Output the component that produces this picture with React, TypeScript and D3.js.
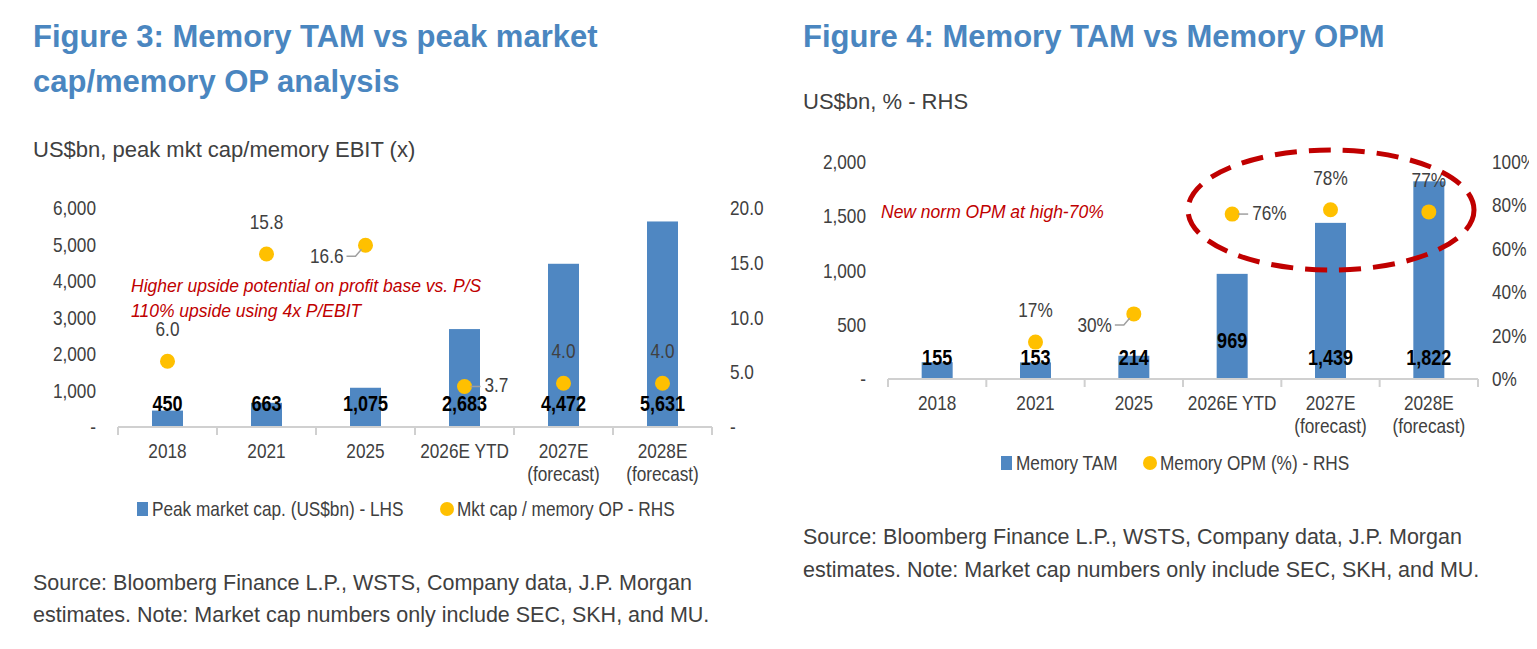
import * as d3 from 'd3';
import type { ReactNode } from 'react';

const categories = ['2018', '2021', '2025', '2026E YTD', '2027E|(forecast)', '2028E|(forecast)'];
const peakMktCap = [450, 663, 1075, 2683, 4472, 5631];
const mktCapOp = [6.0, 15.8, 16.6, 3.7, 4.0, 4.0];
const memoryTam = [155, 153, 214, 969, 1439, 1822];
const memoryOpm: (number | null)[] = [null, 17, 30, 76, 78, 77];
const leftTicks3 = [0, 1000, 2000, 3000, 4000, 5000, 6000];
const rightTicks3 = [0, 5, 10, 15, 20];
const leftTicks4 = [0, 500, 1000, 1500, 2000];
const rightTicks4 = [0, 20, 40, 60, 80, 100];

const BLUE = '#4F87C2';
const GOLD = '#FFC000';
const TITLE = '#4A86C0';
const TXT = '#404040';
const RED = '#C00000';
const SANS = '"Liberation Sans", Arial, sans-serif';

// condensed text, the chart uses a narrow face
function N(props: { x: number; y: number; anchor?: string; bold?: boolean; fill?: string; size?: number; children: ReactNode }) {
  return (
    <text transform={`translate(${props.x},${props.y}) scale(0.82,1)`} textAnchor={props.anchor ?? 'start'}
      fontFamily={SANS} fontSize={props.size ?? 21} fontWeight={props.bold ? 'bold' : 'normal'} fill={props.fill ?? TXT}>
      {props.children}
    </text>
  );
}

type LabelPos = 'above' | 'left' | 'right';

function Panel(props: {
  x0: number; x1: number; y0: number; y1: number;
  bars: number[]; dots: (number | null)[];
  lMax: number; rMax: number; lTicks: number[]; rTicks: number[];
  lFmt: (v: number) => string; rFmt: (v: number) => string; dFmt: (v: number) => string;
  lx: number; rx: number; barW: number;
  barLabelY: (v: number, i: number) => number;
  dotPos: LabelPos[];
  legend: [string, string]; legendY: number; legendX: [number, number];
}) {
  const p = props;
  const x = d3.scaleBand().domain(categories).range([p.x0, p.x1]);
  const yl = d3.scaleLinear().domain([0, p.lMax]).range([p.y0, p.y1]);
  const yr = d3.scaleLinear().domain([0, p.rMax]).range([p.y0, p.y1]);
  const cx = (i: number) => (x(categories[i]) ?? 0) + x.bandwidth() / 2;
  return (
    <g>
      {p.lTicks.map(t => <N key={'l' + t} x={p.lx} y={yl(t) + 7} anchor="end">{p.lFmt(t)}</N>)}
      {p.rTicks.map(t => <N key={'r' + t} x={p.rx} y={yr(t) + 7}>{p.rFmt(t)}</N>)}
      {p.bars.map((v, i) => (
        <rect key={'b' + i} x={cx(i) - p.barW / 2} y={yl(v)} width={p.barW} height={p.y0 - yl(v)} fill={BLUE} />
      ))}
      <line x1={p.x0} x2={p.x1} y1={p.y0} y2={p.y0} stroke="#D0D0D0" strokeWidth={2} />
      {categories.map((c, i) => (
        <line key={'t' + i} x1={x(c)} x2={x(c)} y1={p.y0} y2={p.y0 + 8} stroke="#D0D0D0" strokeWidth={2} />
      ))}
      <line x1={p.x1} x2={p.x1} y1={p.y0} y2={p.y0 + 8} stroke="#D0D0D0" strokeWidth={2} />
      {categories.map((c, i) => c.split('|').map((s, k) => (
        <N key={c + k} x={cx(i)} y={p.y0 + 31 + k * 23} anchor="middle">{s}</N>
      )))}
      {p.bars.map((v, i) => (
        <N key={'bl' + i} x={cx(i)} y={p.barLabelY(v, i)} anchor="middle" bold fill="#000" size={22}>{d3.format(',')(v)}</N>
      ))}
      {p.dots.map((v, i) => {
        if (v == null) return null;
        const px = cx(i), py = yr(v);
        const pos = p.dotPos[i];
        return (
          <g key={'d' + i}>
            <circle cx={px} cy={py} r={7.5} fill={GOLD} />
            {pos === 'above' && <N x={px} y={py - 25} anchor="middle">{p.dFmt(v)}</N>}
            {pos === 'left' && (
              <g>
                <polyline points={`${px - 4},${py + 4} ${px - 10},${py + 11} ${px - 19},${py + 11}`} fill="none" stroke="#A0A0A0" strokeWidth={1.5} />
                <N x={px - 22} y={py + 18} anchor="end">{p.dFmt(v)}</N>
              </g>
            )}
            {pos === 'right' && (
              <g>
                <line x1={px + 6} x2={px + 16} y1={py} y2={py} stroke="#A0A0A0" strokeWidth={1.5} />
                <N x={px + 20} y={py + 6}>{p.dFmt(v)}</N>
              </g>
            )}
          </g>
        );
      })}
      <rect x={p.legendX[0]} y={p.legendY - 14} width={11} height={14} fill={BLUE} />
      <N x={p.legendX[0] + 15} y={p.legendY}>{p.legend[0]}</N>
      <circle cx={p.legendX[1] + 6} cy={p.legendY - 7} r={7} fill={GOLD} />
      <N x={p.legendX[1] + 16} y={p.legendY}>{p.legend[1]}</N>
    </g>
  );
}

export default function App() {
  return (
    <svg width={1537} height={649} style={{ display: 'block', margin: -8, background: '#fff' }}>
      <text fontFamily={SANS} fontWeight="bold" fontSize={31} fill={TITLE}>
        <tspan x={33} y={47}>Figure 3: Memory TAM vs peak market</tspan>
        <tspan x={33} y={92}>cap/memory OP analysis</tspan>
      </text>
      <text x={33} y={157} fontFamily={SANS} fontSize={22} fill={TXT}>US$bn, peak mkt cap/memory EBIT (x)</text>
      <Panel x0={118} x1={712} y0={427} y1={208}
        bars={peakMktCap} dots={mktCapOp} lMax={6000} rMax={20}
        lTicks={leftTicks3} rTicks={rightTicks3}
        lFmt={v => (v === 0 ? '-' : d3.format(',')(v))}
        rFmt={v => (v === 0 ? '-' : d3.format('.1f')(v))}
        dFmt={v => d3.format('.1f')(v)}
        lx={96} rx={730} barW={31}
        barLabelY={() => 411}
        dotPos={['above', 'above', 'left', 'right', 'above', 'above']}
        legend={['Peak market cap. (US$bn) - LHS', 'Mkt cap / memory OP - RHS']}
        legendY={516} legendX={[137, 441]} />
      <text x={131} y={292} fontFamily={SANS} fontStyle="italic" fontSize={17.5} fill={RED}>Higher upside potential on profit base vs. P/S</text>
      <text x={131} y={317} fontFamily={SANS} fontStyle="italic" fontSize={17.5} fill={RED}>110% upside using 4x P/EBIT</text>
      <text x={33} y={590} fontFamily={SANS} fontSize={21.5} fill={TXT}>Source: Bloomberg Finance L.P., WSTS, Company data, J.P. Morgan</text>
      <text x={33} y={622} fontFamily={SANS} fontSize={21.5} fill={TXT}>estimates. Note: Market cap numbers only include SEC, SKH, and MU.</text>

      <text x={803} y={47} fontFamily={SANS} fontWeight="bold" fontSize={31} fill={TITLE}>Figure 4: Memory TAM vs Memory OPM</text>
      <text x={803} y={109} fontFamily={SANS} fontSize={22} fill={TXT}>US$bn, % - RHS</text>
      <Panel x0={888} x1={1478} y0={379} y1={162}
        bars={memoryTam} dots={memoryOpm} lMax={2000} rMax={100}
        lTicks={leftTicks4} rTicks={rightTicks4}
        lFmt={v => (v === 0 ? '-' : d3.format(',')(v))}
        rFmt={v => v + '%'}
        dFmt={v => v + '%'}
        lx={866} rx={1492} barW={31}
        barLabelY={(v) => (v > 900 && v < 1000 ? 348 : 365)}
        dotPos={['above', 'above', 'left', 'right', 'above', 'above']}
        legend={['Memory TAM', 'Memory OPM (%) - RHS']}
        legendY={470} legendX={[1001, 1144]} />
      <text x={881} y={218} fontFamily={SANS} fontStyle="italic" fontSize={17.5} fill={RED}>New norm OPM at high-70%</text>
      <ellipse cx={1331} cy={210} rx={143} ry={60} fill="none" stroke={RED} strokeWidth={5} strokeDasharray="22 12" />
      <text x={803} y={544} fontFamily={SANS} fontSize={21.5} fill={TXT}>Source: Bloomberg Finance L.P., WSTS, Company data, J.P. Morgan</text>
      <text x={803} y={577} fontFamily={SANS} fontSize={21.5} fill={TXT}>estimates. Note: Market cap numbers only include SEC, SKH, and MU.</text>
    </svg>
  );
}
